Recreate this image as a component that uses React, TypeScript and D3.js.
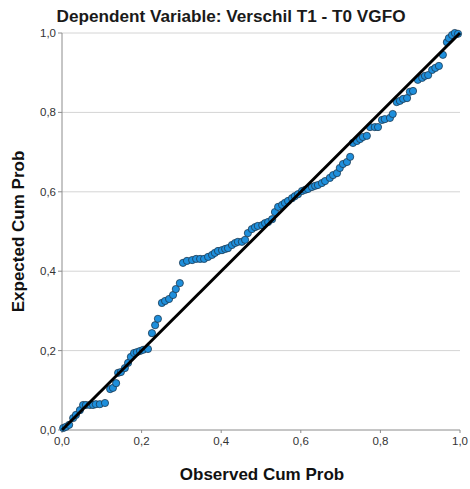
import React from "react";
import * as d3 from "d3";

const title = "Dependent Variable: Verschil T1 - T0 VGFO";
const xTitle = "Observed Cum Prob";
const yTitle = "Expected Cum Prob";
const tickValues = [0, 0.2, 0.4, 0.6, 0.8, 1.0];
const tickLabels = ["0,0", "0,2", "0,4", "0,6", "0,8", "1,0"];

const observed = [
  0.003, 0.010, 0.018, 0.028, 0.035, 0.045, 0.053, 0.060, 0.070, 0.078,
  0.085, 0.095, 0.108, 0.121, 0.128, 0.136, 0.141, 0.148, 0.158, 0.166,
  0.173, 0.181, 0.188, 0.196, 0.204, 0.216, 0.226, 0.234, 0.241, 0.251,
  0.259, 0.269, 0.279, 0.286, 0.296, 0.304, 0.314, 0.327, 0.337, 0.347,
  0.357, 0.367, 0.377, 0.384, 0.392, 0.402, 0.410, 0.417, 0.427, 0.435,
  0.442, 0.452, 0.460, 0.467, 0.477, 0.485, 0.492, 0.503, 0.510, 0.518,
  0.528, 0.535, 0.543, 0.553, 0.560, 0.568, 0.578, 0.585, 0.593, 0.603,
  0.611, 0.618, 0.628, 0.636, 0.643, 0.653, 0.661, 0.673, 0.681, 0.691,
  0.698, 0.706, 0.716, 0.724, 0.731, 0.741, 0.749, 0.756, 0.766, 0.774,
  0.786, 0.794, 0.804, 0.811, 0.824, 0.831, 0.841, 0.849, 0.857, 0.867,
  0.874, 0.882, 0.894, 0.905, 0.912, 0.920, 0.930, 0.938, 0.947, 0.957,
  0.967, 0.972, 0.980, 0.987, 0.995,
];

const expected = [
  0.005, 0.008, 0.013, 0.030, 0.038, 0.050, 0.063, 0.063, 0.063, 0.063,
  0.065, 0.065, 0.068, 0.103, 0.106, 0.118, 0.144, 0.146, 0.156, 0.169,
  0.184, 0.194, 0.196, 0.199, 0.202, 0.204, 0.244, 0.264, 0.280, 0.320,
  0.325, 0.330, 0.340, 0.355, 0.370, 0.421, 0.426, 0.428, 0.431, 0.431,
  0.431, 0.436, 0.441, 0.446, 0.451, 0.453, 0.456, 0.458, 0.466, 0.471,
  0.474, 0.474, 0.479, 0.496, 0.506, 0.511, 0.514, 0.516, 0.521, 0.524,
  0.531, 0.549, 0.562, 0.567, 0.572, 0.577, 0.584, 0.589, 0.594, 0.602,
  0.605, 0.607, 0.612, 0.615, 0.617, 0.622, 0.627, 0.635, 0.642, 0.647,
  0.660, 0.670, 0.675, 0.688, 0.723, 0.728, 0.733, 0.738, 0.741, 0.763,
  0.763, 0.763, 0.781, 0.783, 0.786, 0.796, 0.826, 0.829, 0.834, 0.836,
  0.852, 0.854, 0.882, 0.887, 0.892, 0.894, 0.907, 0.912, 0.917, 0.945,
  0.977, 0.987, 0.995, 1.000, 0.998,
];

const W = 470;
const H = 489;
const margin = { left: 62, right: 10, top: 33, bottom: 59 };

export default function App() {
  const x = d3.scaleLinear().domain([0, 1]).range([margin.left, W - margin.right]);
  const y = d3.scaleLinear().domain([0, 1]).range([H - margin.bottom, margin.top]);
  const font = "'Liberation Sans', Arial, sans-serif";
  const pts = observed.map((o, i) => [o, expected[i]] as [number, number]);
  const diag = d3.line<[number, number]>().x((d) => x(d[0])).y((d) => y(d[1]));

  return (
    <svg
      width={W}
      height={H}
      style={{ position: "absolute", left: 0, top: 0, background: "#fff" }}
      fontFamily={font}
    >
      <rect x={0} y={0} width={W} height={H} fill="#fff" />
      {tickValues.slice(1).map((t) => (
        <line key={"g" + t} x1={x(0)} x2={x(1)} y1={y(t)} y2={y(t)} stroke="#d4d4d4" strokeWidth={1} />
      ))}
      <line x1={x(0)} x2={x(0)} y1={y(0)} y2={y(1)} stroke="#8c8c8c" strokeWidth={1} />
      <line x1={x(0)} x2={x(1)} y1={y(0)} y2={y(0)} stroke="#8c8c8c" strokeWidth={1} />
      {tickValues.map((t, i) => (
        <g key={"y" + t}>
          <line x1={x(0) - 4} x2={x(0)} y1={y(t)} y2={y(t)} stroke="#8c8c8c" />
          <text x={x(0) - 6} y={y(t) + 4} textAnchor="end" fontSize={11.5} fill="#333">
            {tickLabels[i]}
          </text>
        </g>
      ))}
      {tickValues.map((t, i) => (
        <g key={"x" + t}>
          <line x1={x(t)} x2={x(t)} y1={y(0)} y2={y(0) + 3} stroke="#8c8c8c" />
          <text x={x(t)} y={y(0) + 15} textAnchor="middle" fontSize={11.5} fill="#333">
            {tickLabels[i]}
          </text>
        </g>
      ))}
      {pts.map((p, i) => (
        <circle
          key={i}
          cx={x(p[0])}
          cy={y(p[1])}
          r={3.6}
          fill="#1e8fdc"
          stroke="#1d3a52"
          strokeWidth={0.8}
        />
      ))}
      <path d={diag([[0, 0], [1, 1]]) || ""} stroke="#000" strokeWidth={3} fill="none" />
      <text x={231} y={22} textAnchor="middle" fontSize={16} fontWeight="bold" fill="#1a1a1a" textLength={349} lengthAdjust="spacingAndGlyphs">
        {title}
      </text>
      <text x={262} y={480} textAnchor="middle" fontSize={17} fontWeight="bold" fill="#111">
        {xTitle}
      </text>
      <text
        transform={`translate(24, ${y(0.5)}) rotate(-90)`}
        textAnchor="middle"
        fontSize={17}
        fontWeight="bold"
        fill="#111"
      >
        {yTitle}
      </text>
    </svg>
  );
}
